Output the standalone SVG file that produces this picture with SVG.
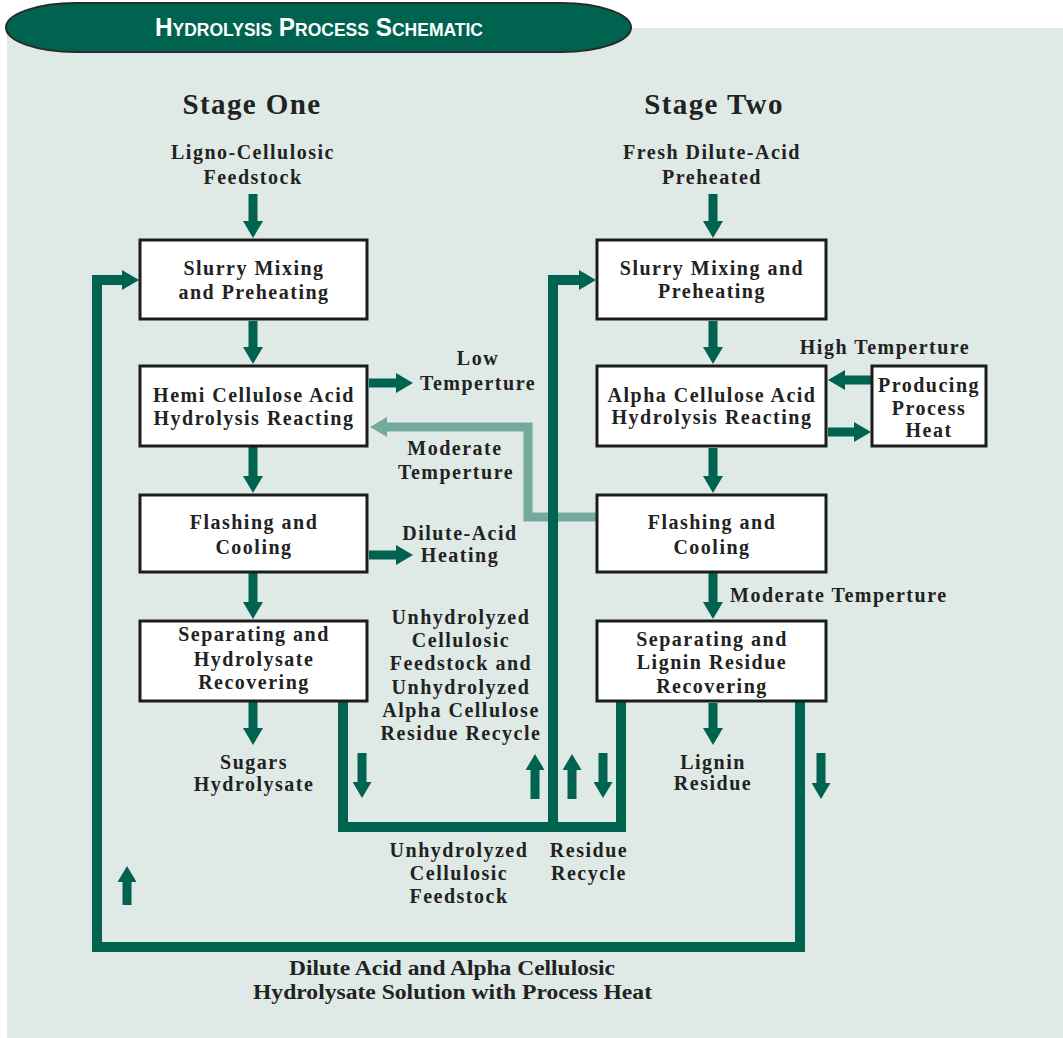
<svg xmlns="http://www.w3.org/2000/svg" width="1063" height="1038" viewBox="0 0 1063 1038">
  <style>
    .t { font-family: "Liberation Serif", "Times New Roman", serif; font-weight: bold; font-size: 20px; fill: #222; letter-spacing: 1.5px; text-anchor: middle; }
    .st { font-size: 29px; letter-spacing: 1.4px; }
    .box { fill: #ffffff; stroke: #1c1c1c; stroke-width: 3; }
    .dk { fill: none; stroke: #00634f; stroke-width: 9; }
    .lp { fill: none; stroke: #00634f; stroke-width: 10; stroke-linejoin: miter; }
    .lt { fill: none; stroke: #74aa9e; stroke-width: 9; }
  </style>
  <defs>
    <marker id="ah" markerUnits="userSpaceOnUse" markerWidth="17" markerHeight="20" refX="1" refY="10" orient="auto">
      <path d="M0,0 L17,10 L0,20 z" fill="#00634f"/>
    </marker>
    <marker id="ahs" markerUnits="userSpaceOnUse" markerWidth="16" markerHeight="19" refX="1" refY="9.5" orient="auto">
      <path d="M0,0 L16,9.5 L0,19 z" fill="#00634f"/>
    </marker>
    <marker id="ahl" markerUnits="userSpaceOnUse" markerWidth="17" markerHeight="20" refX="1" refY="10" orient="auto">
      <path d="M0,0 L17,10 L0,20 z" fill="#74aa9e"/>
    </marker>
  </defs>

  <rect x="0" y="0" width="1063" height="1038" fill="#ffffff"/>
  <rect x="7" y="28" width="1056" height="1010" fill="#dfeae6"/>

  <g id="title">
    <rect x="6" y="3" width="625" height="49" rx="70" ry="24.5" fill="#00634f" stroke="#2a2a2a" stroke-width="2"/>
    <text x="155" y="36" textLength="328" lengthAdjust="spacingAndGlyphs" style="font-family: 'Liberation Sans Narrow', 'Liberation Sans', Arial, sans-serif; font-weight: bold; font-size: 25px; font-variant: small-caps; fill: #ffffff;">Hydrolysis Process Schematic</text>
  </g>

  <g id="connectors">
    <path class="lt" d="M597,517 H528 V427 H386" marker-end="url(#ahl)"/>
    <path class="lp" d="M800,702 V947 H97 V280 H123" marker-end="url(#ah)"/>
    <path class="lp" d="M343,701 V827 H621 V702"/>
    <path class="lp" d="M553,832 V280 H580" marker-end="url(#ah)"/>
    <path class="dk" d="M253,194 V222" marker-end="url(#ah)"/>
    <path class="dk" d="M253,321 V348" marker-end="url(#ah)"/>
    <path class="dk" d="M253,447 V477" marker-end="url(#ah)"/>
    <path class="dk" d="M253,573 V603" marker-end="url(#ah)"/>
    <path class="dk" d="M253,702 V729" marker-end="url(#ah)"/>
    <path class="dk" d="M713,194 V222" marker-end="url(#ah)"/>
    <path class="dk" d="M713,321 V348" marker-end="url(#ah)"/>
    <path class="dk" d="M713,448 V477" marker-end="url(#ah)"/>
    <path class="dk" d="M713,573 V603" marker-end="url(#ah)"/>
    <path class="dk" d="M713,703 V729" marker-end="url(#ah)"/>
    <path class="dk" d="M369,383 H397" marker-end="url(#ah)"/>
    <path class="dk" d="M369,555 H397" marker-end="url(#ah)"/>
    <path class="dk" d="M871,380 H844" marker-end="url(#ah)"/>
    <path class="dk" d="M828,432 H855" marker-end="url(#ah)"/>
    <path class="dk" d="M362,753 V783" marker-end="url(#ahs)"/>
    <path class="dk" d="M535,799 V769" marker-end="url(#ahs)"/>
    <path class="dk" d="M572,799 V769" marker-end="url(#ahs)"/>
    <path class="dk" d="M603,753 V783" marker-end="url(#ahs)"/>
    <path class="dk" d="M821,753 V784" marker-end="url(#ahs)"/>
    <path class="dk" d="M127,905 V881" marker-end="url(#ahs)"/>
  </g>

  <g id="stage-one-labels">
    <text class="t st" x="252" y="114">Stage One</text>
    <text class="t" x="253" y="159">Ligno-Cellulosic</text>
    <text class="t" x="253" y="184">Feedstock</text>
  </g>
  <g id="stage-two-labels">
    <text class="t st" x="714" y="114">Stage Two</text>
    <text class="t" x="712" y="159">Fresh Dilute-Acid</text>
    <text class="t" x="712" y="184">Preheated</text>
  </g>

  <g id="slurry-one">
    <rect class="box" x="140" y="240" width="227" height="79"/>
    <text class="t" x="254" y="275">Slurry Mixing</text>
    <text class="t" x="254" y="299">and Preheating</text>
  </g>
  <g id="hemi-reacting">
    <rect class="box" x="140" y="366" width="227" height="80"/>
    <text class="t" x="254" y="402">Hemi Cellulose Acid</text>
    <text class="t" x="254" y="425">Hydrolysis Reacting</text>
  </g>
  <g id="flashing-one">
    <rect class="box" x="140" y="495" width="227" height="77"/>
    <text class="t" x="254" y="529">Flashing and</text>
    <text class="t" x="254" y="554">Cooling</text>
  </g>
  <g id="separating-one">
    <rect class="box" x="140" y="621" width="227" height="80"/>
    <text class="t" x="254" y="641">Separating and</text>
    <text class="t" x="254" y="666">Hydrolysate</text>
    <text class="t" x="254" y="689">Recovering</text>
  </g>
  <g id="sugars">
    <text class="t" x="254" y="769">Sugars</text>
    <text class="t" x="254" y="791">Hydrolysate</text>
  </g>

  <g id="slurry-two">
    <rect class="box" x="597" y="240" width="229" height="79"/>
    <text class="t" x="712" y="275">Slurry Mixing and</text>
    <text class="t" x="712" y="298">Preheating</text>
  </g>
  <g id="alpha-reacting">
    <rect class="box" x="597" y="366" width="229" height="80"/>
    <text class="t" x="712" y="402">Alpha Cellulose Acid</text>
    <text class="t" x="712" y="424">Hydrolysis Reacting</text>
  </g>
  <g id="process-heat">
    <rect class="box" x="872" y="366" width="114" height="80"/>
    <text class="t" x="929" y="392">Producing</text>
    <text class="t" x="929" y="415">Process</text>
    <text class="t" x="929" y="437">Heat</text>
  </g>
  <g id="flashing-two">
    <rect class="box" x="597" y="495" width="229" height="77"/>
    <text class="t" x="712" y="529">Flashing and</text>
    <text class="t" x="712" y="554">Cooling</text>
  </g>
  <g id="separating-two">
    <rect class="box" x="597" y="621" width="229" height="80"/>
    <text class="t" x="712" y="646">Separating and</text>
    <text class="t" x="712" y="669">Lignin Residue</text>
    <text class="t" x="712" y="693">Recovering</text>
  </g>
  <g id="lignin">
    <text class="t" x="713" y="769">Lignin</text>
    <text class="t" x="713" y="790">Residue</text>
  </g>

  <g id="labels">
    <text class="t" x="478" y="365">Low</text>
    <text class="t" x="478" y="390">Temperture</text>
    <text class="t" x="455" y="455">Moderate</text>
    <text class="t" x="456" y="479">Temperture</text>
    <text class="t" x="460" y="540">Dilute-Acid</text>
    <text class="t" x="460" y="562">Heating</text>
    <text class="t" x="885" y="354">High Temperture</text>
    <text class="t" x="730" y="602" style="text-anchor: start;">Moderate Temperture</text>
    <text class="t" x="461" y="624">Unhydrolyzed</text>
    <text class="t" x="461" y="647">Cellulosic</text>
    <text class="t" x="461" y="670">Feedstock and</text>
    <text class="t" x="461" y="694">Unhydrolyzed</text>
    <text class="t" x="461" y="717">Alpha Cellulose</text>
    <text class="t" x="461" y="740">Residue Recycle</text>
    <text class="t" x="459" y="857">Unhydrolyzed</text>
    <text class="t" x="459" y="880">Cellulosic</text>
    <text class="t" x="459" y="903">Feedstock</text>
    <text class="t" x="589" y="857">Residue</text>
    <text class="t" x="589" y="880">Recycle</text>
    <text class="t" x="289" y="975" textLength="326" lengthAdjust="spacingAndGlyphs" style="text-anchor: start; letter-spacing: 0;">Dilute Acid and Alpha Cellulosic</text>
    <text class="t" x="253" y="999" textLength="399" lengthAdjust="spacingAndGlyphs" style="text-anchor: start; letter-spacing: 0;">Hydrolysate Solution with Process Heat</text>
  </g>
</svg>
